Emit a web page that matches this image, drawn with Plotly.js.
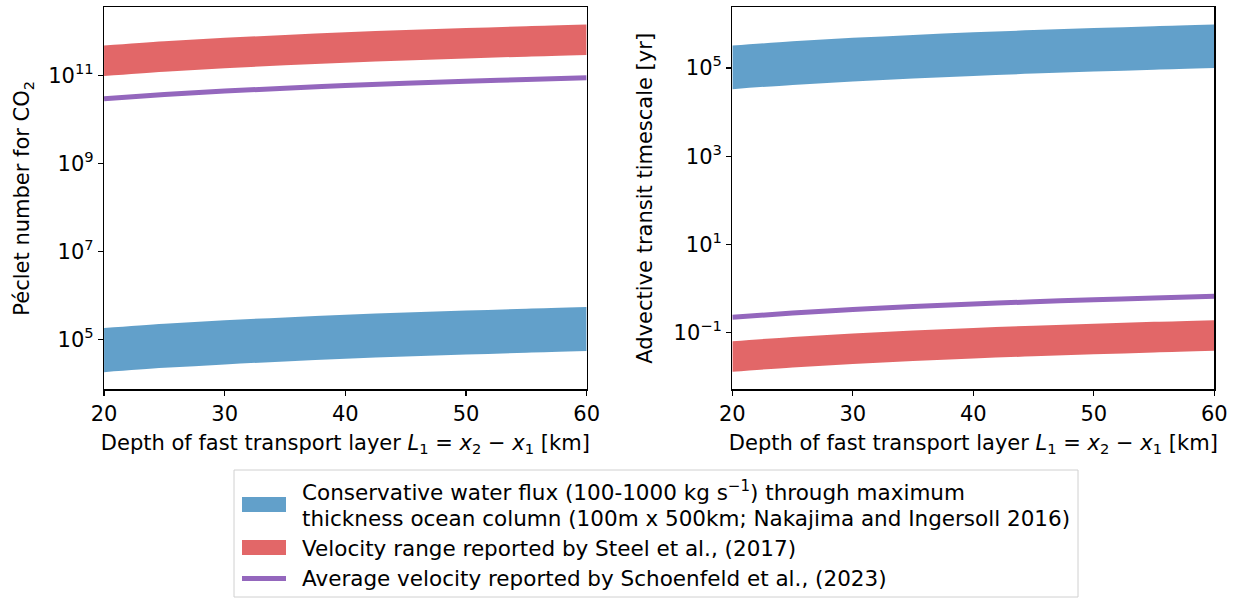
<!DOCTYPE html>
<html>
<head>
<meta charset="utf-8">
<script src="https://cdn.plot.ly/plotly-3.0.1.min.js"></script>
<style>
  html, body { margin: 0; padding: 0; background: #ffffff; }
  #chart { width: 1240px; height: 599px; }
</style>
</head>
<body>
<div id="chart"></div>
<script>
// Depth of the fast transport layer L1 [km]
const depthKm = [20, 25, 30, 35, 40, 45, 50, 55, 60];

// Péclet number for CO2
const pecletFluxLow   = [18000, 22500, 27000, 31500, 36000, 40500, 45000, 49500, 54000];
const pecletFluxHigh  = [180000, 225000, 270000, 315000, 360000, 405000, 450000, 495000, 540000];
const pecletSteelLow  = [9.6e10, 1.2e11, 1.44e11, 1.68e11, 1.92e11, 2.16e11, 2.4e11, 2.64e11, 2.88e11];
const pecletSteelHigh = [4.7e11, 5.875e11, 7.05e11, 8.225e11, 9.4e11, 1.0575e12, 1.175e12, 1.2925e12, 1.41e12];
const pecletSchoenfeld = [2.9e10, 3.625e10, 4.35e10, 5.075e10, 5.8e10, 6.525e10, 7.25e10, 7.975e10, 8.7e10];

// Advective transit timescale [yr]
const transitFluxLow   = [3.3e4, 4.125e4, 4.95e4, 5.775e4, 6.6e4, 7.425e4, 8.25e4, 9.075e4, 9.9e4];
const transitFluxHigh  = [3.2e5, 4.0e5, 4.8e5, 5.6e5, 6.4e5, 7.2e5, 8.0e5, 8.8e5, 9.6e5];
const transitSteelLow  = [0.013, 0.01625, 0.0195, 0.02275, 0.026, 0.02925, 0.0325, 0.03575, 0.039];
const transitSteelHigh = [0.064, 0.08, 0.096, 0.112, 0.128, 0.144, 0.16, 0.176, 0.192];
const transitSchoenfeld = [0.223, 0.279, 0.335, 0.391, 0.447, 0.502, 0.558, 0.614, 0.67];

// Tick labels
const xTicks = [20, 30, 40, 50, 60];
const pecletTickVals = [1e5, 1e7, 1e9, 1e11];
const pecletTickText = ['10<sup>5</sup>', '10<sup>7</sup>', '10<sup>9</sup>', '10<sup>11</sup>'];
const transitTickVals = [0.1, 10, 1000, 1e5];
const transitTickText = ['10<sup>−1</sup>', '10<sup>1</sup>', '10<sup>3</sup>', '10<sup>5</sup>'];

// Legend labels (the first one wraps onto two lines)
const labelFluxLines = [
  'Conservative water flux (100-1000 kg s<sup>−1</sup>) through maximum',
  'thickness ocean column (100m x 500km; Nakajima and Ingersoll 2016)'
];
const labelSteel = 'Velocity range reported by Steel et al., (2017)';
const labelSchoenfeld = 'Average velocity reported by Schoenfeld et al., (2023)';

const BLUE_FILL = 'rgba(31,119,180,0.7)';
const RED_FILL = 'rgba(214,39,40,0.7)';
const PURPLE = '#9467bd';

function band(low, high, fillColor, xa, ya) {
  return [
    { x: depthKm, y: low, xaxis: xa, yaxis: ya, mode: 'lines',
      line: { width: 0, shape: 'spline', color: fillColor }, showlegend: false },
    { x: depthKm, y: high, xaxis: xa, yaxis: ya, mode: 'lines', fill: 'tonexty', fillcolor: fillColor,
      line: { width: 0, shape: 'spline', color: fillColor }, showlegend: false }
  ];
}

function avgLine(vals, xa, ya) {
  return { x: depthKm, y: vals, xaxis: xa, yaxis: ya, mode: 'lines',
    line: { color: PURPLE, width: 5, shape: 'spline' }, showlegend: false };
}

const traces = [
  ...band(pecletFluxLow, pecletFluxHigh, BLUE_FILL, 'x', 'y'),
  ...band(pecletSteelLow, pecletSteelHigh, RED_FILL, 'x', 'y'),
  avgLine(pecletSchoenfeld, 'x', 'y'),
  ...band(transitFluxLow, transitFluxHigh, BLUE_FILL, 'x2', 'y2'),
  ...band(transitSteelLow, transitSteelHigh, RED_FILL, 'x2', 'y2'),
  avgLine(transitSchoenfeld, 'x2', 'y2')
];

const FONT = "'DejaVu Sans', sans-serif";
const FS = 21;
const xTitle = 'Depth of fast transport layer <i>L</i><sub>1</sub> = <i>x</i><sub>2</sub> − <i>x</i><sub>1</sub> [km]';

function xAxis(domain, anchor) {
  return {
    domain: domain, anchor: anchor, range: [20, 60], tickvals: xTicks,
    ticks: 'outside', ticklen: 5, tickwidth: 1.2, tickcolor: '#000',
    showline: true, linecolor: '#000', linewidth: 1.2, mirror: true,
    showgrid: false, zeroline: false,
    tickfont: { family: FONT, size: FS, color: '#000' },
    title: { text: xTitle, font: { family: FONT, size: FS, color: '#000' }, standoff: 10 }
  };
}

function yAxis(range, vals, text, title, anchor, standoff) {
  return {
    domain: [0.350, 0.988], anchor: anchor, type: 'log', range: range,
    tickvals: vals, ticktext: text,
    ticks: 'outside', ticklen: 5, tickwidth: 1.2, tickcolor: '#000',
    showline: true, linecolor: '#000', linewidth: 1.2, mirror: true,
    showgrid: false, zeroline: false,
    tickfont: { family: FONT, size: FS, color: '#000' },
    title: { text: title, font: { family: FONT, size: FS, color: '#000' }, standoff: standoff }
  };
}

// Legend drawn in pixel terms on the paper
const W = 1240, H = 599;
const px = x => x / W;
const py = y => 1 - y / H;

const shapes = [
  { type: 'rect', xref: 'paper', yref: 'paper', x0: px(234), x1: px(1078), y0: py(470), y1: py(597),
    line: { color: '#d0d0d0', width: 1 }, fillcolor: 'rgba(255,255,255,0.8)', layer: 'above' },
  { type: 'rect', xref: 'paper', yref: 'paper', x0: px(242), x1: px(286), y0: py(497), y1: py(512),
    line: { width: 0 }, fillcolor: BLUE_FILL, layer: 'above' },
  { type: 'rect', xref: 'paper', yref: 'paper', x0: px(242), x1: px(286), y0: py(540), y1: py(555),
    line: { width: 0 }, fillcolor: RED_FILL, layer: 'above' },
  { type: 'line', xref: 'paper', yref: 'paper', x0: px(242), x1: px(286), y0: py(578.5), y1: py(578.5),
    line: { color: PURPLE, width: 5 }, layer: 'above' }
];

function legendText(text, yCenter) {
  return { xref: 'paper', yref: 'paper', x: px(300), y: py(yCenter), xanchor: 'left', yanchor: 'middle',
    text: text, showarrow: false, font: { family: FONT, size: 21.5, color: '#000' } };
}

const annotations = [
  legendText(labelFluxLines[0], 491),
  legendText(labelFluxLines[1], 518),
  legendText(labelSteel, 548),
  legendText(labelSchoenfeld, 578)
];

const layout = {
  width: W, height: H,
  margin: { l: 0, r: 0, t: 0, b: 0 },
  paper_bgcolor: '#fff', plot_bgcolor: '#fff',
  font: { family: FONT, color: '#000' },
  xaxis: xAxis([0.0839, 0.4731], 'y'),
  yaxis: yAxis([3.864, 12.545], pecletTickVals, pecletTickText, 'Péclet number for CO<sub>2</sub>', 'x', 12),
  xaxis2: xAxis([0.5906, 0.9793], 'y2'),
  yaxis2: yAxis([-2.284, 6.376], transitTickVals, transitTickText, 'Advective transit timescale [yr]', 'x2', 15),
  showlegend: false,
  shapes: shapes,
  annotations: annotations
};

Plotly.newPlot('chart', traces, layout, { displayModeBar: false, staticPlot: true });
</script>
</body>
</html>
